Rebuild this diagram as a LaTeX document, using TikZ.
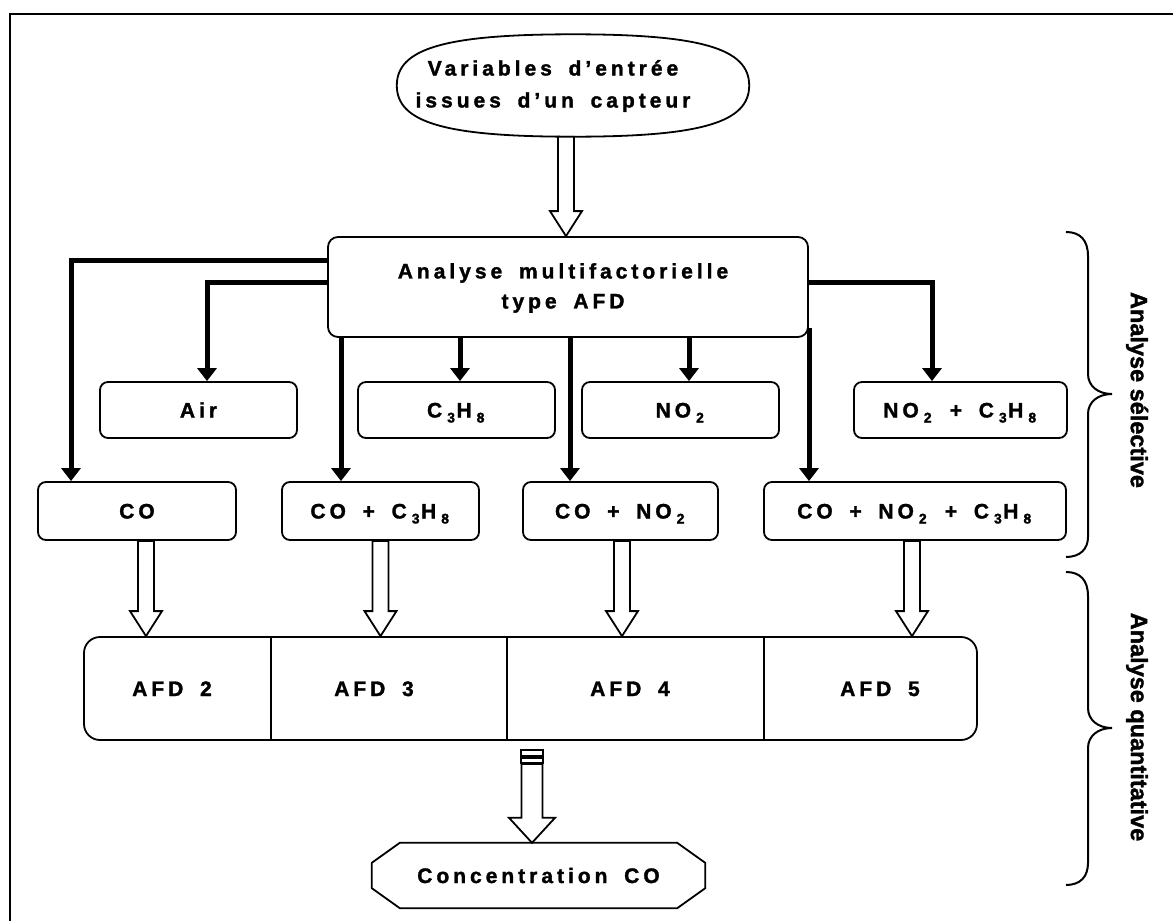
\documentclass[tikz,border=0pt]{standalone}
\usepackage{fontspec}
\setmainfont{Liberation Sans}
\newfontfamily\lsp{Liberation Sans}[LetterSpace=19,WordSpace=1.7,BoldFont={Liberation Sans Bold},BoldFeatures={FakeBold=1.5}]
\newfontfamily\bsans{Liberation Sans}[BoldFont={Liberation Sans Bold},BoldFeatures={FakeBold=1.5}]
\usetikzlibrary{arrows.meta,calc,shapes.geometric}
\newcommand\sbs[1]{\kern5pt\raisebox{-5pt}{\fontsize{14pt}{14pt}\selectfont #1}\kern1.5pt\relax}
\newcommand\harrow[2]{\draw[hol] let \p1=(#1), \p2=(#2) in
  (\x1-8pt,\y1) -- (\x1-8pt,\y2+25pt) -- (\x1-16pt,\y2+25pt) -- (\x1,\y2)
  -- (\x1+16pt,\y2+25pt) -- (\x1+8pt,\y2+25pt) -- (\x1+8pt,\y1) -- cycle;}
\tikzset{
  bx/.style={draw, line width=1.8pt, rounded corners=8pt, minimum height=56pt,
    text height=15pt, text depth=0pt, inner sep=0pt,
    font={\lsp\bfseries\fontsize{21pt}{24pt}\selectfont}},
  mainbx/.style={draw, line width=1.8pt, rounded corners=10pt, minimum width=480pt,
    minimum height=100pt, inner sep=0pt},
  txt/.style={align=center, inner sep=0pt,
    font={\lsp\bfseries\fontsize{21pt}{32pt}\selectfont}},
  afdbx/.style={draw, line width=1.8pt, rounded corners=16pt, minimum width=893pt,
    minimum height=103pt, inner sep=0pt},
  lbl/.style={inner sep=0pt, text height=15pt, text depth=0pt,
    font={\lsp\bfseries\fontsize{21pt}{24pt}\selectfont}},
  side/.style={inner sep=0pt, font={\bsans\bfseries\fontsize{23.5pt}{26pt}\selectfont}},
  tarrow/.style={line width=5pt, -{Triangle[length=13pt,width=19pt]}},
  hol/.style={draw, fill=white, line width=1.8pt, line join=miter},
  div/.style={line width=2.4pt},
  brc/.style={line width=2pt}
}
\begin{document}
\begin{tikzpicture}[x=1pt,y=-1pt]
\useasboundingbox (0,0) rectangle (1173,921);
\draw[line width=2pt] (9.5,921) -- (9.5,13.5) -- (1173,13.5);

% input: a full, slightly boxy ellipse
\node[minimum width=352pt, minimum height=102pt, inner sep=0pt] (inp) at (573,85.5) {};
\draw[line width=1.8pt]
  (inp.east) .. controls ($(inp.east)+(0,37)$) and ($(inp.south)+(128,0)$) .. (inp.south)
  .. controls ($(inp.south)+(-128,0)$) and ($(inp.west)+(0,37)$) .. (inp.west)
  .. controls ($(inp.west)+(0,-37)$) and ($(inp.north)+(-128,0)$) .. (inp.north)
  .. controls ($(inp.north)+(128,0)$) and ($(inp.east)+(0,-37)$) .. (inp.east) -- cycle;
\node[txt] (inptxt) at (553,86) {Variables d’entrée\\issues d’un capteur};

\node[mainbx] (main) at (568,287) {};
\node[txt] (maintxt) at (563,288) {Analyse multifactorielle\\[-2pt]type AFD};

\node[bx,minimum width=197pt] (air) at (198.5,410) {Air};
\node[bx,minimum width=197pt] (c3h8) at (456.5,410) {C\sbs{3}H\sbs{8}};
\node[bx,minimum width=197pt] (no2) at (680.5,410) {NO\sbs{2}};
\node[bx,minimum width=213pt] (no2c3h8) at (960.5,410) {NO\sbs{2} + C\sbs{3}H\sbs{8}};

\node[bx,minimum width=198pt,minimum height=58pt] (co) at (137,511) {CO};
\node[bx,minimum width=197pt,minimum height=58pt] (coc3h8) at (380.5,511) {CO + C\sbs{3}H\sbs{8}};
\node[bx,minimum width=195pt,minimum height=58pt] (cono2) at (620.5,511) {CO + NO\sbs{2}};
\node[bx,minimum width=302pt,minimum height=58pt] (cono2c3h8) at (915,511) {CO + NO\sbs{2} + C\sbs{3}H\sbs{8}};

\node[afdbx] (afd) at (530.5,688.5) {};
\draw[div] ($(afd.north west)+(188,0)$) -- ($(afd.south west)+(188,0)$);
\draw[div] ($(afd.north west)+(424,0)$) -- ($(afd.south west)+(424,0)$);
\draw[div] ($(afd.north west)+(681,0)$) -- ($(afd.south west)+(681,0)$);
\node[lbl] (afd2) at (172,688.5) {AFD 2};
\node[lbl] (afd3) at (374,688.5) {AFD 3};
\node[lbl] (afd4) at (630,688.5) {AFD 4};
\node[lbl] (afd5) at (880,688.5) {AFD 5};

\node[lbl, minimum width=333pt, minimum height=65pt] (conc) at (538.5,875.5) {Concentration CO};
\draw[line width=1.8pt, line join=miter]
  ($(conc.north west)+(28,0)$) -- ($(conc.north east)+(-28,0)$)
  -- ($(conc.north east)+(0,20)$) -- ($(conc.south east)+(0,-20)$)
  -- ($(conc.south east)+(-28,0)$) -- ($(conc.south west)+(28,0)$)
  -- ($(conc.south west)+(0,-20)$) -- ($(conc.north west)+(0,20)$) -- cycle;

% hollow arrows
\harrow{$(inp.south)+(-7,0)$}{main.north}
\harrow{$(co.south)+(9,0)$}{afd.north}
\harrow{$(coc3h8.south)+(0,0)$}{afd.north}
\harrow{$(cono2.south)+(1.5,0)$}{afd.north}
\harrow{$(cono2c3h8.south)+(-3,0)$}{afd.north}

% striped arrow to the result
\draw[hol] let \p1=($(afd.south)+(1.5,0)$), \p2=($(conc.north)+(-6.5,0)$) in
  (\x1-11pt,\y1-9pt) rectangle (\x1+11pt,\y1-15pt)
  (\x1-11pt,\y1-17pt) rectangle (\x1+11pt,\y1-22pt)
  (\x1-10.5pt,\y1-23pt) -- (\x1-10.5pt,\y2+25pt) -- (\x1-23pt,\y2+25pt) -- (\x1,\y2)
  -- (\x1+23pt,\y2+25pt) -- (\x1+10.5pt,\y2+25pt) -- (\x1+10.5pt,\y1-23pt) -- cycle;

% thick arrows from the analysis
\draw[tarrow] ($(main.west)+(0,-27)$) -| ($(co.north)+(-66,0)$);
\draw[tarrow] ($(main.west)+(0,-5)$) -| ($(air.north)+(8.5,0)$);
\draw[tarrow] ($(coc3h8.north |- main.south)+(-39.5,0)$) -- ($(coc3h8.north)+(-39.5,0)$);
\draw[tarrow] ($(c3h8.north |- main.south)+(3.5,0)$) -- ($(c3h8.north)+(3.5,0)$);
\draw[tarrow] ($(cono2.north |- main.south)+(-50.5,0)$) -- ($(cono2.north)+(-50.5,0)$);
\draw[tarrow] ($(no2.north |- main.south)+(8.5,0)$) -- ($(no2.north)+(8.5,0)$);
\draw[tarrow] ($(cono2c3h8.north |- main.south)+(-106,-10)$) -- ($(cono2c3h8.north)+(-106,0)$);
\draw[tarrow] ($(main.east)+(0,-5)$) -| ($(no2c3h8.north)+(-28.5,0)$);

% braces
\draw[brc] (1066,232) .. controls (1080,232) and (1088,240) .. (1088,256) -- (1088,374)
  .. controls (1088,386) and (1098,394) .. (1112,394)
  .. controls (1098,394) and (1088,402) .. (1088,414) -- (1088,537)
  .. controls (1088,549) and (1080,557) .. (1066,557);
\draw[brc] (1066,572) .. controls (1080,572) and (1088,580) .. (1088,596) -- (1088,708)
  .. controls (1088,720) and (1098,728) .. (1112,728)
  .. controls (1098,728) and (1088,736) .. (1088,748) -- (1088,863)
  .. controls (1088,877) and (1080,885) .. (1066,885);
\node[side, rotate=-90] (sel) at (1137,390) {Analyse sélective};
\node[side, rotate=-90] (quant) at (1137,727) {Analyse quantitative};
\end{tikzpicture}
\end{document}
